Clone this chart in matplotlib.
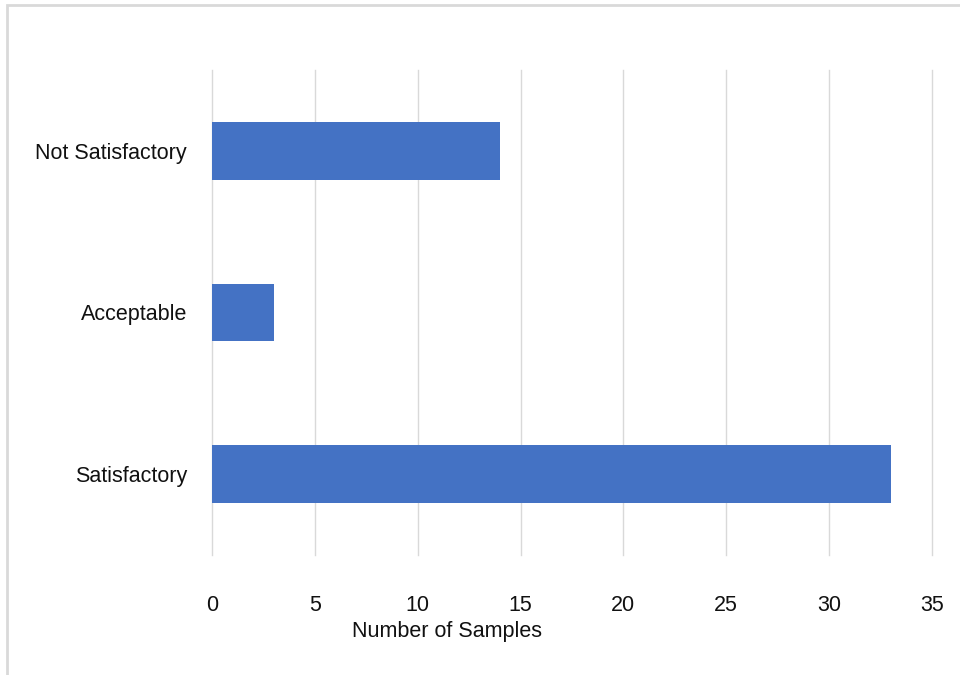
import matplotlib.pyplot as plt
from matplotlib.patches import Rectangle

# data (bottom to top)
categories = ["Satisfactory", "Acceptable", "Not Satisfactory"]
counts = [33, 3, 14]
xticks = [0, 5, 10, 15, 20, 25, 30, 35]

plt.rcParams['font.family'] = ['Liberation Sans', 'DejaVu Sans']

fig = plt.figure(figsize=(9.6, 6.75), dpi=100)
ax = fig.add_axes([0.2208, 0.1778, 0.75, 0.7185])

ax.barh(range(len(categories)), counts, height=0.355, color="#4472C4", zorder=3)
ax.set_yticks(range(len(categories)))
ax.set_yticklabels(categories, fontsize=15.5, color="#111111")
ax.set_ylim(-0.5, len(categories) - 0.5)
ax.set_xlim(0, 35)
ax.set_xticks(xticks)
ax.set_xticklabels([str(v) for v in xticks], fontsize=15.5, color="#111111")
ax.grid(axis="x", color="#D9D9D9", linewidth=1, zorder=0)
for gl in ax.get_xgridlines():
    gl.set_clip_on(False)
ax.tick_params(axis="both", length=0)
ax.tick_params(axis="x", pad=29)
ax.tick_params(axis="y", pad=18)
for s in ax.spines.values():
    s.set_visible(False)

fig.text(447 / 960, 1 - 632 / 675, "Number of Samples", ha="center", va="center",
         fontsize=15.5, color="#111111")

# light border around the chart area
fig.patches.append(Rectangle((7 / 960, -0.1), 1.2, 1 - 5 / 675 + 0.1,
                             transform=fig.transFigure, fill=False,
                             edgecolor="#D9D9D9", linewidth=2))

fig.savefig("out.png", dpi=100)
